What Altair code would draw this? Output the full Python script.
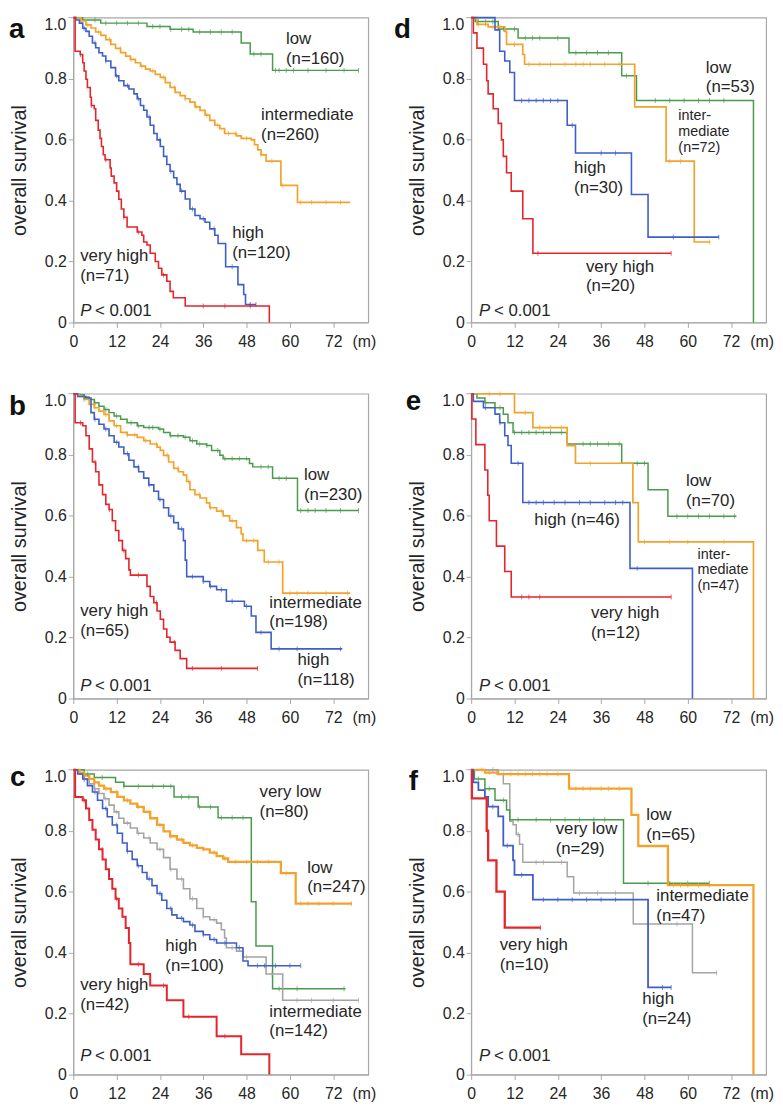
import altair as alt
import pandas as pd

# ---------------- data (months, survival) ----------------
# panel a
A_LOW_T = [0, 2.6, 7.6, 20.4, 26.8, 33.2, 46.5, 49.0, 55.2, 79.0]
A_LOW_S = [1.0, 0.992, 0.982, 0.971, 0.962, 0.953, 0.917, 0.881, 0.827, 0.827]
A_LOW_C = [6, 9, 12, 15, 18, 22, 24, 27, 30, 32, 35, 38, 41, 44, 50, 52, 56, 57, 59, 61, 65, 70, 75, 79]
A_INT_T = [0, 2.1, 3.5, 4.9, 6.2, 7.6, 9.0, 10.4, 11.7, 13.1, 14.5, 15.8, 17.2, 18.6, 20.0, 21.3, 22.7, 24.1, 25.5, 26.8,
           28.2, 29.6, 31.0, 32.3, 33.7, 35.1, 36.5, 37.8, 39.2, 40.6, 41.9, 45.2, 46.5, 49.3, 50.2, 51.1, 52.0, 53.4, 57.5, 62.1, 76.7]
A_INT_S = [1.0, 0.989, 0.976, 0.966, 0.953, 0.942, 0.928, 0.912, 0.899, 0.885, 0.874, 0.863, 0.852, 0.841, 0.831, 0.825, 0.814, 0.804, 0.787, 0.771,
           0.755, 0.744, 0.734, 0.723, 0.707, 0.696, 0.680, 0.663, 0.647, 0.636, 0.620, 0.612, 0.604, 0.599, 0.583, 0.566, 0.550, 0.529, 0.450, 0.394, 0.394]
A_INT_C = [4, 7, 10, 13, 16, 19, 22, 25, 28, 31, 34, 37, 40, 43, 45, 48, 52, 55, 58, 63, 66, 70, 74]
A_HIGH_T = [0, 0.7, 1.7, 2.6, 3.5, 4.4, 5.3, 6.2, 7.1, 8.1, 9.0, 10.4, 11.7, 12.6, 14.0, 15.4, 16.8, 17.7, 18.6, 19.5,
            20.4, 21.3, 22.3, 23.2, 24.1, 25.0, 25.9, 26.8, 27.8, 28.7, 29.6, 31.0, 32.3, 33.7, 35.1, 36.5, 37.8, 39.2, 40.1, 42.2,
            45.6, 47.2, 47.7, 50.6]
A_HIGH_S = [1.0, 0.992, 0.982, 0.965, 0.955, 0.939, 0.917, 0.901, 0.885, 0.874, 0.858, 0.836, 0.809, 0.793, 0.777, 0.766, 0.750, 0.734, 0.712, 0.696,
            0.674, 0.647, 0.620, 0.599, 0.577, 0.545, 0.518, 0.496, 0.475, 0.453, 0.431, 0.405, 0.372, 0.351, 0.340, 0.329, 0.307, 0.286, 0.259, 0.183,
            0.124, 0.092, 0.059, 0.059]
A_HIGH_C = [3, 6, 9, 12, 15, 18, 21, 24, 27, 30, 33, 36, 39, 44, 49, 50.6]
A_VH_T = [0, 0.5, 1.9, 2.6, 3.0, 3.5, 3.9, 4.7, 5.0, 5.8, 6.2, 6.9, 7.4, 7.8, 8.3, 8.8, 10.2, 10.5, 11.3, 12.0,
          12.6, 13.3, 14.0, 14.9, 17.7, 19.0, 19.5, 20.4, 21.3, 22.7, 23.6, 24.5, 25.9, 26.8, 27.7, 31.0, 54.3]
A_VH_S = [1.0, 0.890, 0.879, 0.852, 0.825, 0.798, 0.771, 0.739, 0.712, 0.701, 0.663, 0.631, 0.604, 0.577, 0.550, 0.534, 0.507, 0.480, 0.458, 0.431,
          0.404, 0.372, 0.345, 0.313, 0.297, 0.286, 0.264, 0.254, 0.227, 0.200, 0.178, 0.156, 0.135, 0.102, 0.081, 0.054, 0.0]
A_VH_C = [2, 5, 9, 14, 18, 25, 36, 42, 49]

# panel b
B_LOW_T = [0, 1.7, 3.0, 4.4, 5.8, 7.1, 8.5, 9.9, 11.3, 13.1, 14.9, 17.7, 19.5, 23.6, 25.0, 26.8, 30.5, 32.3, 34.2, 36.9,
           38.3, 40.6, 41.5, 48.8, 49.7, 55.2, 62.1, 79.0]
B_LOW_S = [1.0, 0.997, 0.989, 0.981, 0.970, 0.959, 0.948, 0.938, 0.927, 0.916, 0.905, 0.895, 0.889, 0.884, 0.873, 0.862, 0.857, 0.846, 0.835, 0.830,
           0.814, 0.798, 0.787, 0.771, 0.760, 0.723, 0.617, 0.617]
B_LOW_C = [3, 6, 9, 12, 16, 18, 21, 22, 24, 27, 29, 31, 33, 35, 37, 40, 42, 44, 46, 48, 52, 54, 57, 59, 63, 65, 67, 70, 74, 79]
B_INT_T = [0, 1.7, 3.0, 4.4, 5.8, 7.1, 8.5, 9.9, 11.3, 13.1, 14.9, 17.7, 19.5, 21.3, 23.2, 24.1, 25.0, 26.4, 27.8, 29.1,
           30.5, 31.4, 32.3, 33.7, 35.1, 36.9, 37.8, 39.7, 41.5, 43.3, 45.2, 46.5, 47.0, 51.1, 52.9, 58.0, 76.7]
B_INT_S = [1.0, 0.991, 0.981, 0.965, 0.954, 0.943, 0.932, 0.911, 0.895, 0.873, 0.865, 0.857, 0.846, 0.835, 0.825, 0.814, 0.798, 0.776, 0.755, 0.744,
           0.733, 0.712, 0.685, 0.669, 0.658, 0.642, 0.626, 0.615, 0.599, 0.583, 0.561, 0.540, 0.518, 0.486, 0.448, 0.346, 0.346]
B_INT_C = [3, 6, 9, 12, 15, 17, 20, 23, 26, 29, 32, 35, 38, 41, 44, 48, 50, 54, 57, 60, 62, 65, 70, 76]
B_HIGH_T = [0, 1.2, 3.5, 4.9, 5.8, 7.1, 8.5, 9.9, 11.3, 12.6, 14.0, 15.4, 16.8, 18.1, 19.5, 20.9, 22.3, 23.6, 25.0, 26.4,
            27.8, 29.1, 30.5, 31.0, 31.4, 36.0, 37.8, 39.7, 42.4, 47.4, 49.3, 50.6, 54.8, 74.5]
B_HIGH_S = [1.0, 0.991, 0.986, 0.938, 0.916, 0.900, 0.884, 0.862, 0.841, 0.825, 0.803, 0.782, 0.760, 0.744, 0.723, 0.701, 0.680, 0.653, 0.626, 0.599,
            0.577, 0.556, 0.518, 0.454, 0.400, 0.384, 0.368, 0.357, 0.319, 0.303, 0.271, 0.217, 0.163, 0.163]
B_HIGH_C = [3, 6, 9, 12, 15, 18, 21, 24, 27, 30, 33, 36, 38, 41, 44, 48, 52, 57, 62, 74]
B_VH_T = [0, 0.5, 2.6, 3.5, 4.4, 5.3, 6.2, 7.1, 8.1, 9.0, 9.9, 10.8, 11.7, 12.6, 13.6, 14.5, 15.4, 15.8, 20.4, 21.3,
          22.3, 23.2, 24.1, 25.0, 25.9, 26.8, 28.2, 29.6, 31.4, 51.1]
B_VH_S = [1.0, 0.905, 0.895, 0.862, 0.819, 0.776, 0.744, 0.701, 0.669, 0.637, 0.620, 0.583, 0.551, 0.518, 0.486, 0.459, 0.422, 0.405, 0.368, 0.335,
          0.314, 0.287, 0.260, 0.228, 0.201, 0.185, 0.158, 0.131, 0.099, 0.099]
B_VH_C = [2, 6, 10, 14, 18, 23, 28, 33, 41, 51]

# panel c
C_VLOW_T = [0, 3.0, 5.8, 11.7, 14.0, 27.9, 34.6, 40.1, 49.3, 50.6, 55.2, 75.4]
C_VLOW_S = [1.0, 0.986, 0.975, 0.959, 0.946, 0.911, 0.878, 0.843, 0.567, 0.422, 0.282, 0.282]
C_VLOW_C = [4, 8, 14, 18, 22, 25, 27, 30, 32, 35, 38, 41, 44, 47, 57, 62, 75]
C_LOW_T = [0, 1.7, 3.0, 4.4, 5.8, 7.1, 8.5, 10.4, 12.2, 14.0, 15.8, 17.7, 19.5, 21.3, 23.2, 25.0, 26.8, 28.7, 30.5, 32.3,
           34.2, 36.0, 37.8, 39.7, 41.5, 42.9, 57.5, 61.6, 77.2]
C_LOW_S = [1.0, 0.991, 0.981, 0.970, 0.959, 0.948, 0.938, 0.927, 0.911, 0.900, 0.889, 0.878, 0.862, 0.841, 0.819, 0.798, 0.782, 0.771, 0.760, 0.752,
           0.744, 0.739, 0.728, 0.717, 0.709, 0.698, 0.661, 0.561, 0.561]
C_LOW_C = [3, 6, 9, 12, 15, 18, 21, 24, 27, 30, 33, 36, 39, 42, 45, 48, 51, 54, 59, 63, 65, 68, 72, 77]
C_INT_T = [0, 1.7, 3.0, 4.4, 5.8, 7.1, 8.5, 9.9, 11.3, 12.6, 14.0, 15.8, 17.7, 19.5, 21.3, 23.2, 25.0, 26.8, 28.7, 30.5,
           32.3, 34.2, 36.0, 37.8, 39.7, 41.0, 41.9, 42.4, 45.2, 47.0, 53.4, 58.0, 79.0]
C_INT_S = [1.0, 0.986, 0.970, 0.954, 0.938, 0.922, 0.905, 0.884, 0.862, 0.841, 0.825, 0.809, 0.792, 0.776, 0.760, 0.739, 0.712, 0.674, 0.642, 0.610,
           0.577, 0.545, 0.518, 0.508, 0.497, 0.475, 0.448, 0.416, 0.405, 0.386, 0.330, 0.244, 0.244]
C_INT_C = [3, 6, 9, 12, 15, 18, 21, 24, 27, 30, 33, 36, 39, 44, 48, 55, 62, 66, 72, 79]
C_HIGH_T = [0, 1.2, 2.6, 3.9, 5.3, 6.7, 8.1, 9.4, 10.8, 12.2, 13.6, 14.9, 16.3, 17.7, 19.1, 20.4, 21.8, 23.2, 24.5, 25.9,
            27.3, 28.7, 30.5, 32.3, 33.7, 36.0, 37.8, 39.7, 45.2, 47.0, 48.4, 63.0]
C_HIGH_S = [1.0, 0.986, 0.970, 0.948, 0.927, 0.900, 0.873, 0.846, 0.819, 0.792, 0.760, 0.733, 0.706, 0.685, 0.663, 0.642, 0.620, 0.594, 0.572, 0.545,
            0.524, 0.513, 0.502, 0.491, 0.470, 0.459, 0.443, 0.432, 0.416, 0.373, 0.357, 0.357]
C_HIGH_C = [3, 6, 9, 12, 15, 18, 21, 24, 27, 30, 33, 36, 39, 42, 46, 51, 53, 56, 60, 63]
C_VH_T = [0, 0.5, 2.6, 3.5, 4.4, 5.3, 6.2, 7.1, 8.1, 9.0, 9.9, 10.8, 11.7, 12.6, 13.6, 14.5, 15.4, 15.8, 19.5, 21.3,
          25.9, 30.5, 39.7, 46.5, 54.3]
C_VH_S = [1.0, 0.911, 0.900, 0.873, 0.835, 0.803, 0.771, 0.739, 0.706, 0.674, 0.642, 0.610, 0.577, 0.545, 0.518, 0.481, 0.432, 0.362, 0.330, 0.292,
          0.244, 0.190, 0.126, 0.067, 0.0]
C_VH_C = [3, 8, 12, 18, 25, 32, 42]

# panel d
D_LOW_T = [0, 1.1, 7.5, 13.0, 27.1, 41.7, 45.8, 78.2]
D_LOW_S = [1.0, 0.987, 0.963, 0.933, 0.885, 0.809, 0.728, 0.0]
D_LOW_C = [2, 4, 6, 9, 12, 15, 17, 19, 24, 29, 32, 35, 38, 43, 51, 55, 59, 63, 66, 70]
D_INT_T = [0, 1.6, 4.7, 9.3, 9.8, 14.3, 14.8, 45.3, 54.0, 61.8, 66.3]
D_INT_S = [1.0, 0.978, 0.970, 0.955, 0.912, 0.879, 0.847, 0.707, 0.529, 0.264, 0.264]
D_INT_C = [2, 4, 6, 8, 12, 16, 19, 22, 26, 29, 31, 33, 37, 41, 55, 58, 66]
D_HIGH_T = [0, 6.6, 7.9, 9.3, 10.7, 12.0, 26.6, 28.9, 44.4, 49.0, 68.6]
D_HIGH_S = [1.0, 0.960, 0.890, 0.858, 0.820, 0.728, 0.647, 0.556, 0.420, 0.280, 0.280]
D_HIGH_C = [14, 16, 18, 20, 22, 24, 28, 36, 40, 56, 68.6]
D_VH_T = [0, 0.6, 1.6, 3.4, 4.3, 4.7, 6.1, 7.5, 8.4, 8.9, 9.8, 11.1, 14.3, 17.1, 55.4]
D_VH_S = [1.0, 0.950, 0.900, 0.847, 0.793, 0.750, 0.701, 0.653, 0.599, 0.545, 0.491, 0.431, 0.340, 0.227, 0.227]
D_VH_C = [18.5, 55.4]

# panel e
E_LOW_T = [0, 1.6, 3.8, 6.6, 8.9, 10.2, 11.6, 26.6, 41.7, 49.0, 54.5, 73.5]
E_LOW_S = [1.0, 0.986, 0.970, 0.954, 0.933, 0.905, 0.873, 0.835, 0.772, 0.685, 0.598, 0.598]
E_LOW_C = [4, 8, 12, 14, 16, 18, 20, 22, 25, 31, 33, 35, 38, 41, 46, 48, 57, 60, 63, 66, 70, 73]
E_INT_T = [0, 12.0, 17.1, 26.6, 28.9, 44.8, 46.3, 78.2]
E_INT_S = [1.0, 0.938, 0.889, 0.830, 0.772, 0.643, 0.514, 0.0]
E_INT_C = [5, 8, 15, 19, 22, 25, 33, 48, 55, 60, 70]
E_HIGH_T = [0, 0.6, 3.4, 6.6, 7.9, 9.3, 10.2, 11.1, 14.3, 44.0, 61.3]
E_HIGH_S = [1.0, 0.975, 0.954, 0.933, 0.905, 0.862, 0.830, 0.772, 0.643, 0.427, 0.0]
E_HIGH_C = [4, 8, 13, 16, 18, 20, 23, 26, 30, 33, 37, 40, 42, 46]
E_VH_T = [0, 0.2, 1.3, 3.8, 4.6, 5.0, 7.0, 9.3, 11.1, 55.4]
E_VH_S = [1.0, 0.917, 0.833, 0.750, 0.667, 0.583, 0.500, 0.417, 0.333, 0.333]
E_VH_C = [14, 16, 19, 55.4]

# panel f
F_VLOW_T = [0, 0.9, 3.8, 6.6, 9.8, 10.7, 42.2, 65.9]
F_VLOW_S = [1.0, 0.970, 0.938, 0.900, 0.868, 0.836, 0.628, 0.628]
F_VLOW_C = [2, 5, 9, 13, 18, 22, 26, 30, 34, 37, 49, 55, 60, 66]
F_LOW_T = [0, 3.8, 7.5, 27.1, 44.4, 46.3, 54.5, 78.2]
F_LOW_S = [1.0, 0.991, 0.986, 0.938, 0.852, 0.750, 0.622, 0.0]
F_LOW_C = [3, 5, 7, 9, 11, 13, 15, 17, 19, 21, 24, 29, 31, 33, 36, 38, 41, 56, 58, 60, 63, 66]
F_INT_T = [0, 7.5, 8.9, 10.7, 11.6, 12.5, 13.4, 14.3, 26.6, 28.4, 44.9, 61.3, 68.1]
F_INT_S = [1.0, 0.986, 0.954, 0.831, 0.820, 0.788, 0.756, 0.697, 0.649, 0.596, 0.494, 0.334, 0.334]
F_INT_C = [6, 13, 18, 20, 25, 30, 35, 40, 57, 68]
F_HIGH_T = [0, 0.6, 2.0, 3.8, 4.7, 7.5, 8.9, 11.6, 12.0, 17.1, 49.0, 55.4]
F_HIGH_S = [1.0, 0.959, 0.933, 0.911, 0.879, 0.847, 0.751, 0.703, 0.655, 0.574, 0.286, 0.286]
F_HIGH_C = [6, 10, 14, 20, 24, 28, 32, 36, 40, 53, 55.4]
F_VH_T = [0, 0.2, 4.3, 4.7, 7.0, 9.3, 19.2]
F_VH_S = [1.0, 0.906, 0.800, 0.703, 0.600, 0.482, 0.482]
F_VH_C = [19.2]

# curve labels (text, month, survival at first baseline)
A_LAB_TEXT = ["low\n(n=160)", "intermediate\n(n=260)", "high\n(n=120)", "very high\n(n=71)"]
A_LAB_X = [58.9, 52.0, 44.0, 1.9]
A_LAB_Y = [0.912, 0.663, 0.277, 0.200]
B_LAB_TEXT = ["low\n(n=230)", "intermediate\n(n=198)", "high\n(n=118)", "very high\n(n=65)"]
B_LAB_X = [63.9, 54.3, 62.1, 1.9]
B_LAB_Y = [0.717, 0.298, 0.110, 0.271]
C_LAB_TEXT = ["very low\n(n=80)", "low\n(n=247)", "high\n(n=100)", "very high\n(n=42)", "intermediate\n(n=142)"]
C_LAB_X = [51.6, 64.8, 25.5, 1.9, 54.3]
C_LAB_Y = [0.911, 0.663, 0.405, 0.276, 0.190]
D_LAB_TEXT = ["low\n(n=53)", "high\n(n=30)", "very high\n(n=20)"]
D_LAB_X = [65.0, 28.5, 31.8]
D_LAB_Y = [0.820, 0.491, 0.167]
D_SMALL_TEXT = ["inter-\nmediate\n(n=72)"]
D_SMALL_X = [57.4]
D_SMALL_Y = [0.663]
E_LAB_TEXT = ["low\n(n=70)", "high (n=46)", "very high\n(n=12)"]
E_LAB_X = [59.5, 17.5, 33.2]
E_LAB_Y = [0.696, 0.568, 0.265]
E_SMALL_TEXT = ["inter-\nmediate\n(n=47)"]
E_SMALL_X = [62.7]
E_SMALL_Y = [0.459]
F_LAB_TEXT = ["low\n(n=65)", "very low\n(n=29)", "intermediate\n(n=47)", "very high\n(n=10)", "high\n(n=24)"]
F_LAB_X = [48.5, 23.4, 51.3, 7.9, 47.4]
F_LAB_Y = [0.836, 0.788, 0.569, 0.409, 0.232]

P_X = {"a": 1.9, "b": 1.9, "c": 1.9, "d": 2.2, "e": 2.2, "f": 2.2}
P_Y = {"a": 0.022, "b": 0.024, "c": 0.045, "d": 0.022, "e": 0.024, "f": 0.045}

X_TICKS = [0, 12, 24, 36, 48, 60, 72]
Y_TICKS = [0, 0.2, 0.4, 0.6, 0.8]
Y_TOP = 1.0
Y_TOP_LABEL = "1.0"

# ---------------- styling ----------------
GREEN, ORANGE, BLUE, RED, GRAY = "#4a9b4c", "#f3a32c", "#3e5ec8", "#e4252b", "#a4a4a4"
FONT = "Liberation Sans"
TXT = "#262626"
FRAME = "#a8a8a8"
W, H = 298, 308
XMAX = 81.7


def step_value(T, S, c):
    v = S[0]
    for t, s in zip(T, S):
        if t <= c:
            v = s
        else:
            break
    return v


def make_panel(letter, letter_dx, letter_y, curves, lab, small=None):
    rows, crows = [], []
    for name, col, T, S, C, w in curves:
        assert len(T) == len(S), name
        for i, (t, s) in enumerate(zip(T, S)):
            rows.append({"curve": name, "t": t, "s": s, "ord": i, "col": col, "w": w})
        for c in C:
            crows.append({"curve": name, "t": c, "s": step_value(T, S, c), "col": col})
    ldf = pd.DataFrame(rows)
    cdf = pd.DataFrame(crows)

    xs = alt.Scale(domain=[0, XMAX], nice=False, zero=False)
    ys = alt.Scale(domain=[0, 1], nice=False)
    xaxis = alt.Axis(values=X_TICKS, title=None, grid=False, labelFontSize=16, tickSize=5,
                     labelPadding=6, labelFlush=False, labelOverlap=False, format="d",
                     domainColor=FRAME, tickColor=FRAME, labelColor=TXT, labelFont=FONT)
    yaxis = alt.Axis(values=Y_TICKS, title="overall survival", grid=False, labelFontSize=16,
                     tickSize=5, labelPadding=2, labelOverlap=False,
                     labelExpr="datum.value == 0 ? '0' : format(datum.value, '.1f')",
                     titleFontSize=20, titleFontWeight="normal", titleColor=TXT, titleFont=FONT,
                     titlePadding=15, domainColor=FRAME, tickColor=FRAME, labelColor=TXT,
                     labelFont=FONT)

    lines = alt.Chart(ldf).mark_line(interpolate="step-after").encode(
        x=alt.X("t:Q", scale=xs, axis=xaxis),
        y=alt.Y("s:Q", scale=ys, axis=yaxis),
        color=alt.Color("col:N", scale=None),
        strokeWidth=alt.StrokeWidth("w:Q", scale=None),
        detail="curve:N",
        order="ord:Q",
    )
    cens = alt.Chart(cdf).mark_tick(orient="vertical", size=5, thickness=1).encode(
        x=alt.X("t:Q", scale=xs), y=alt.Y("s:Q", scale=ys),
        color=alt.Color("col:N", scale=None),
    )
    labdf = pd.DataFrame({"text": lab[0], "x": lab[1], "y": lab[2]})
    labels = alt.Chart(labdf).mark_text(align="left", baseline="alphabetic", fontSize=17,
                                        lineHeight=20, lineBreak="\n", color=TXT, font=FONT).encode(
        x=alt.X("x:Q", scale=xs), y=alt.Y("y:Q", scale=ys), text="text:N")
    layers = [lines, cens, labels]
    if small is not None:
        sdf = pd.DataFrame({"text": small[0], "x": small[1], "y": small[2]})
        layers.append(alt.Chart(sdf).mark_text(align="left", baseline="alphabetic", fontSize=14.5,
                                               lineHeight=16, lineBreak="\n", color=TXT, font=FONT).encode(
            x=alt.X("x:Q", scale=xs), y=alt.Y("y:Q", scale=ys), text="text:N"))
    pdf = pd.DataFrame({"x": [P_X[letter]], "y": [P_Y[letter]], "p": ["P"], "rest": ["< 0.001"]})
    layers.append(alt.Chart(pdf).mark_text(align="left", baseline="alphabetic", fontSize=17,
                                           fontStyle="italic", color=TXT, font=FONT).encode(
        x=alt.X("x:Q", scale=xs), y=alt.Y("y:Q", scale=ys), text="p:N"))
    layers.append(alt.Chart(pdf).mark_text(align="left", baseline="alphabetic", fontSize=17, dx=15,
                                           color=TXT, font=FONT).encode(
        x=alt.X("x:Q", scale=xs), y=alt.Y("y:Q", scale=ys), text="rest:N"))
    tdf = pd.DataFrame({"letter": [letter], "unit": ["(m)"], "top": [Y_TOP_LABEL]})
    # top y tick and its label (label hangs just below the frame, as in the original)
    layers.append(alt.Chart(tdf).mark_rule(color=FRAME, strokeWidth=1).encode(
        x=alt.value(-5), x2=alt.value(0), y=alt.datum(Y_TOP)))
    layers.append(alt.Chart(tdf).mark_text(align="right", baseline="top", fontSize=16, dx=-7, dy=-1,
                                           color=TXT, font=FONT).encode(
        x=alt.value(0), y=alt.datum(Y_TOP), text="top:N"))
    layers.append(alt.Chart(tdf).mark_text(align="left", baseline="alphabetic", fontSize=28,
                                           fontWeight="bold", color="#111", font=FONT).encode(
        x=alt.value(letter_dx), y=alt.value(letter_y), text="letter:N"))
    layers.append(alt.Chart(tdf).mark_text(align="center", baseline="alphabetic", fontSize=16,
                                           color=TXT, font=FONT).encode(
        x=alt.value(W - 4), y=alt.value(H + 25), text="unit:N"))
    return alt.layer(*layers).properties(width=W, height=H)


pa = make_panel("a", -65, 21, [
    ("low", GREEN, A_LOW_T, A_LOW_S, A_LOW_C, 1.5),
    ("intermediate", ORANGE, A_INT_T, A_INT_S, A_INT_C, 1.7),
    ("high", BLUE, A_HIGH_T, A_HIGH_S, A_HIGH_C, 1.6),
    ("very high", RED, A_VH_T, A_VH_S, A_VH_C, 1.6),
], (A_LAB_TEXT, A_LAB_X, A_LAB_Y))

pb = make_panel("b", -65, 21, [
    ("low", GREEN, B_LOW_T, B_LOW_S, B_LOW_C, 1.5),
    ("intermediate", ORANGE, B_INT_T, B_INT_S, B_INT_C, 1.7),
    ("high", BLUE, B_HIGH_T, B_HIGH_S, B_HIGH_C, 1.6),
    ("very high", RED, B_VH_T, B_VH_S, B_VH_C, 1.6),
], (B_LAB_TEXT, B_LAB_X, B_LAB_Y))

pc = make_panel("c", -64, 16, [
    ("very low", GREEN, C_VLOW_T, C_VLOW_S, C_VLOW_C, 1.5),
    ("intermediate", GRAY, C_INT_T, C_INT_S, C_INT_C, 1.6),
    ("low", ORANGE, C_LOW_T, C_LOW_S, C_LOW_C, 2.3),
    ("high", BLUE, C_HIGH_T, C_HIGH_S, C_HIGH_C, 1.6),
    ("very high", RED, C_VH_T, C_VH_S, C_VH_C, 2.0),
], (C_LAB_TEXT, C_LAB_X, C_LAB_Y))

pd_ = make_panel("d", -78, 21, [
    ("low", GREEN, D_LOW_T, D_LOW_S, D_LOW_C, 1.5),
    ("intermediate", ORANGE, D_INT_T, D_INT_S, D_INT_C, 1.7),
    ("high", BLUE, D_HIGH_T, D_HIGH_S, D_HIGH_C, 1.6),
    ("very high", RED, D_VH_T, D_VH_S, D_VH_C, 1.6),
], (D_LAB_TEXT, D_LAB_X, D_LAB_Y), (D_SMALL_TEXT, D_SMALL_X, D_SMALL_Y))

pe = make_panel("e", -66, 16, [
    ("low", GREEN, E_LOW_T, E_LOW_S, E_LOW_C, 1.5),
    ("intermediate", ORANGE, E_INT_T, E_INT_S, E_INT_C, 1.7),
    ("high", BLUE, E_HIGH_T, E_HIGH_S, E_HIGH_C, 1.6),
    ("very high", RED, E_VH_T, E_VH_S, E_VH_C, 1.6),
], (E_LAB_TEXT, E_LAB_X, E_LAB_Y), (E_SMALL_TEXT, E_SMALL_X, E_SMALL_Y))

pf = make_panel("f", -63, 20, [
    ("intermediate", GRAY, F_INT_T, F_INT_S, F_INT_C, 1.5),
    ("very low", GREEN, F_VLOW_T, F_VLOW_S, F_VLOW_C, 1.5),
    ("low", ORANGE, F_LOW_T, F_LOW_S, F_LOW_C, 2.3),
    ("high", BLUE, F_HIGH_T, F_HIGH_S, F_HIGH_C, 1.8),
    ("very high", RED, F_VH_T, F_VH_S, F_VH_C, 2.3),
], (F_LAB_TEXT, F_LAB_X, F_LAB_Y))

# 3 x 2 grid; flush bounds: spacing measured between plot frames
chart = alt.concat(pa, pd_, pb, pe, pc, pf, columns=2, spacing={"row": 72, "column": 104},
                   bounds="flush").properties(
    padding={"top": 0, "left": 0, "right": 0, "bottom": 0}, background="white"
).configure(font=FONT).configure_view(stroke=FRAME, strokeWidth=1.2)

chart.save("out.html", embed_options={"renderer": "svg", "actions": False})
